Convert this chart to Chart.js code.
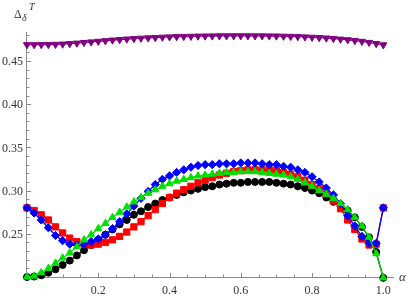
<!DOCTYPE html>
<html>
<head>
<meta charset="utf-8">
<script src="https://cdn.jsdelivr.net/npm/chart.js@4.4.1/dist/chart.umd.min.js"></script>
<style>
  html, body { margin: 0; padding: 0; background: #fff; }
</style>
</head>
<body>
<canvas id="plot" width="409" height="300"></canvas>
<script>
// alpha values (x)
const alpha = [0.00, 0.02, 0.04, 0.06, 0.08, 0.10, 0.12, 0.14, 0.16, 0.18,
               0.20, 0.22, 0.24, 0.26, 0.28, 0.30, 0.32, 0.34, 0.36, 0.38,
               0.40, 0.42, 0.44, 0.46, 0.48, 0.50, 0.52, 0.54, 0.56, 0.58,
               0.60, 0.62, 0.64, 0.66, 0.68, 0.70, 0.72, 0.74, 0.76, 0.78,
               0.80, 0.82, 0.84, 0.86, 0.88, 0.90, 0.92, 0.94, 0.96, 0.98, 1.00];

// series
const purpleVals = [0.4688, 0.4688, 0.4689, 0.4690, 0.4692, 0.4695, 0.4700, 0.4706, 0.4713, 0.4720,
                    0.4727, 0.4734, 0.4741, 0.4747, 0.4753, 0.4758, 0.4763, 0.4767, 0.4771, 0.4775,
                    0.4778, 0.4781, 0.4783, 0.4785, 0.4787, 0.4788, 0.4789, 0.4790, 0.4790, 0.4791,
                    0.4791, 0.4791, 0.4790, 0.4790, 0.4789, 0.4788, 0.4786, 0.4784, 0.4781, 0.4778,
                    0.4774, 0.4770, 0.4765, 0.4759, 0.4752, 0.4745, 0.4736, 0.4726, 0.4714, 0.4701, 0.4686];

const blackVals = [0.200, 0.2005, 0.202, 0.205, 0.209, 0.214, 0.219, 0.225, 0.231, 0.237,
                   0.243, 0.249, 0.255, 0.261, 0.266, 0.272, 0.276, 0.281, 0.285, 0.289,
                   0.292, 0.295, 0.298, 0.300, 0.302, 0.304, 0.305, 0.307, 0.308, 0.309,
                   0.309, 0.310, 0.310, 0.310, 0.310, 0.309, 0.308, 0.307, 0.305, 0.303,
                   0.300, 0.297, 0.292, 0.287, 0.282, 0.277, 0.269, 0.258, 0.246, 0.229, 0.199];

const redVals = [0.280, 0.277, 0.272, 0.266, 0.258, 0.251, 0.245, 0.241, 0.238, 0.237,
                 0.238, 0.240, 0.243, 0.247, 0.252, 0.258, 0.264, 0.271, 0.278, 0.285,
                 0.292, 0.297, 0.301, 0.305, 0.309, 0.312, 0.315, 0.318, 0.320, 0.322,
                 0.323, 0.324, 0.324, 0.324, 0.324, 0.323, 0.321, 0.319, 0.316, 0.312,
                 0.307, 0.302, 0.296, 0.288, 0.279, 0.266, 0.255, 0.244, 0.237, 0.238, 0.280];

const blueVals = [0.280, 0.274, 0.266, 0.257, 0.248, 0.242, 0.238, 0.237, 0.238, 0.241,
                  0.244, 0.249, 0.256, 0.264, 0.273, 0.282, 0.291, 0.299, 0.307, 0.313,
                  0.317, 0.321, 0.324, 0.327, 0.329, 0.330, 0.330, 0.331, 0.331, 0.331,
                  0.332, 0.332, 0.332, 0.331, 0.330, 0.330, 0.328, 0.327, 0.324, 0.321,
                  0.316, 0.310, 0.303, 0.295, 0.285, 0.271, 0.259, 0.247, 0.239, 0.239, 0.280];

const greenVals = [0.200, 0.201, 0.205, 0.210, 0.216, 0.222, 0.228, 0.235, 0.243, 0.249,
                   0.256, 0.262, 0.269, 0.275, 0.281, 0.287, 0.292, 0.297, 0.301, 0.305,
                   0.308, 0.311, 0.313, 0.315, 0.317, 0.318, 0.319, 0.320, 0.321, 0.321,
                   0.322, 0.322, 0.322, 0.321, 0.320, 0.319, 0.318, 0.316, 0.313, 0.309,
                   0.305, 0.300, 0.296, 0.291, 0.285, 0.278, 0.269, 0.259, 0.246, 0.227, 0.199];

// tick labels
const xTickVals = [0.2, 0.4, 0.6, 0.8, 1.0];
const xTickLabels = ["0.2", "0.4", "0.6", "0.8", "1.0"];
const yTickVals = [0.25, 0.30, 0.35, 0.40, 0.45];
const yTickLabels = ["0.25", "0.30", "0.35", "0.40", "0.45"];

function pts(vals) {
  return alpha.map((a, i) => ({ x: a, y: vals[i] }));
}

function series(vals, color, style, radius, rotation) {
  return {
    data: pts(vals),
    borderColor: color,
    backgroundColor: color,
    borderWidth: 1.3,
    pointStyle: style,
    pointRadius: radius,
    pointRotation: rotation || 0,
    pointBorderWidth: 1,
    pointBorderColor: color,
    pointBackgroundColor: color,
    tension: 0,
    clip: false,
  };
}

const axisColor = "#8a8a8a";
const textColor = "#333";
const serif = "\"Liberation Serif\", \"DejaVu Serif\", serif";

// Mathematica-like axes: line through origin, ticks pointing inwards
const mmaAxes = {
  id: "mmaAxes",
  beforeDatasetsDraw(chart) {
    const ctx = chart.ctx;
    const xs = chart.scales.x, ys = chart.scales.y;
    const x0 = xs.getPixelForValue(0);
    const y0 = ys.getPixelForValue(0.2);
    ctx.save();
    ctx.strokeStyle = axisColor;
    ctx.lineWidth = 1;
    ctx.beginPath();
    ctx.moveTo(xs.left - 2, y0 + 0.5);
    ctx.lineTo(xs.right, y0 + 0.5);
    ctx.moveTo(x0 - 0.5, y0);
    ctx.lineTo(x0 - 0.5, ys.top);
    ctx.stroke();

    // x ticks: major 0.2, minor 0.05
    ctx.beginPath();
    for (let k = 1; k <= 20; k++) {
      const v = k * 0.05;
      const px = Math.round(xs.getPixelForValue(v)) + 0.5;
      const len = (k % 4 === 0) ? 4 : 2.5;
      ctx.moveTo(px, y0);
      ctx.lineTo(px, y0 - len);
    }
    // y ticks: major 0.05, minor 0.01
    for (let k = 21; k <= 48; k++) {
      const v = k / 100;
      const py = Math.round(ys.getPixelForValue(v)) + 0.5;
      const len = (k % 5 === 0) ? 4 : 2.5;
      ctx.moveTo(x0, py);
      ctx.lineTo(x0 + len, py);
    }
    ctx.stroke();

    ctx.fillStyle = textColor;
    ctx.font = "12px " + serif;
    ctx.textAlign = "center";
    ctx.textBaseline = "alphabetic";
    xTickVals.forEach((v, i) => {
      ctx.fillText(xTickLabels[i], xs.getPixelForValue(v), y0 + 17);
    });
    ctx.textAlign = "right";
    ctx.textBaseline = "middle";
    yTickVals.forEach((v, i) => {
      ctx.fillText(yTickLabels[i], x0 - 4, ys.getPixelForValue(v) + 1);
    });

    // axis labels
    ctx.textAlign = "left";
    ctx.textBaseline = "alphabetic";
    ctx.font = "italic 13px " + serif;
    ctx.fillText("\u03b1", 399, y0 + 4);
    ctx.font = "12px " + serif;
    ctx.fillText("\u0394", 14, 18);
    ctx.font = "italic 10px " + serif;
    ctx.fillText("\u03b4", 22, 21);
    ctx.fillText("T", 29, 10);
    ctx.restore();
  },
};

new Chart(document.getElementById("plot"), {
  type: "line",
  data: {
    datasets: [
      series(greenVals, "#00e000", "triangle", 4.2),
      series(blueVals, "#0000ff", "rectRot", 4.1),
      series(redVals, "#ff0000", "rect", 4.4),
      series(blackVals, "#000000", "circle", 3.5),
      series(purpleVals, "#800080", "triangle", 4.1, 180),
    ],
  },
  options: {
    responsive: false,
    devicePixelRatio: 1,
    animation: false,
    layout: { padding: { left: 27, right: 15, top: 32, bottom: 23 } },
    plugins: { legend: { display: false }, tooltip: { enabled: false } },
    scales: {
      x: { type: "linear", min: 0, max: 1.03, display: false },
      y: { type: "linear", min: 0.2, max: 0.4835, display: false },
    },
  },
  plugins: [mmaAxes],
});
</script>
</body>
</html>
